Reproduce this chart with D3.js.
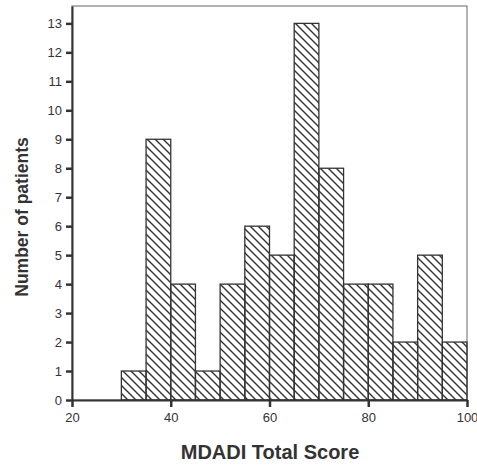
<!DOCTYPE html>
<html>
<head>
<meta charset="utf-8">
<script src="https://d3js.org/d3.v7.min.js"></script>
<style>
  body { margin: 0; background: #fff; }
  text { font-family: "Liberation Sans", Arial, sans-serif; }
</style>
</head>
<body>
<svg id="chart" width="477" height="466"></svg>
<script>
// histogram bins (lower edge) and counts
const binStarts = [30, 35, 40, 45, 50, 55, 60, 65, 70, 75, 80, 85, 90, 95];
const counts    = [1, 9, 4, 1, 4, 6, 5, 13, 8, 4, 4, 2, 5, 2];
const binWidth = 5;
const xTicks = [20, 40, 60, 80, 100];
const yTicks = [0, 1, 2, 3, 4, 5, 6, 7, 8, 9, 10, 11, 12, 13];

const margin = { left: 72, top: 6, right: 10, bottom: 66 };
const width = 477, height = 466;

const svg = d3.select('#chart');

// hatch pattern
svg.append('defs')
  .append('pattern')
    .attr('id', 'hatch')
    .attr('patternUnits', 'userSpaceOnUse')
    .attr('width', 8)
    .attr('height', 8)
  .append('path')
    .attr('d', 'M-2,-2 L10,10 M-2,6 L2,10 M6,-2 L10,2')
    .attr('stroke', '#333')
    .attr('stroke-width', 1.4);

const x = d3.scaleLinear()
  .domain([20, 100])
  .range([margin.left, width - margin.right]);

const y = d3.scaleLinear()
  .domain([0, 13.6])
  .range([height - margin.bottom, margin.top]);

// frame
svg.append('rect')
  .attr('x', x(20))
  .attr('y', y(13.6))
  .attr('width', x(100) - x(20))
  .attr('height', y(0) - y(13.6))
  .attr('fill', 'none')
  .attr('stroke', '#666')
  .attr('stroke-width', 1);

// bars
svg.append('g')
  .selectAll('rect')
  .data(binStarts.map((b, i) => ({ b, c: counts[i] })))
  .join('rect')
    .attr('x', d => x(d.b))
    .attr('y', d => y(d.c))
    .attr('width', d => x(d.b + binWidth) - x(d.b))
    .attr('height', d => y(0) - y(d.c))
    .attr('fill', 'url(#hatch)')
    .attr('stroke', '#333')
    .attr('stroke-width', 1.3);

// axes
const xAxis = svg.append('g')
  .attr('transform', `translate(0,${y(0)})`)
  .call(d3.axisBottom(x).tickValues(xTicks).tickSize(7).tickSizeOuter(0).tickPadding(6));

const yAxis = svg.append('g')
  .attr('transform', `translate(${x(20)},0)`)
  .call(d3.axisLeft(y).tickValues(yTicks).tickSize(6).tickSizeOuter(0).tickPadding(4));

[xAxis, yAxis].forEach(a => {
  a.attr('font-size', null);
  a.select('.domain').attr('stroke', '#333').attr('stroke-width', 2);
  a.selectAll('.tick line').attr('stroke', '#333').attr('stroke-width', 2.5);
  a.selectAll('.tick text')
    .attr('fill', '#333')
    .style('font-size', '13px')
    .style('font-family', '"Liberation Sans", Arial, sans-serif');
});

// titles
svg.append('text')
  .attr('x', 270)
  .attr('y', 459)
  .attr('text-anchor', 'middle')
  .style('font-size', '20px')
  .attr('font-weight', 'bold')
  .attr('fill', '#333')
  .text('MDADI Total Score');

svg.append('text')
  .attr('transform', 'translate(28,217) rotate(-90)')
  .attr('text-anchor', 'middle')
  .style('font-size', '17.5px')
  .attr('font-weight', 'bold')
  .attr('fill', '#333')
  .text('Number of patients');
</script>
</body>
</html>
